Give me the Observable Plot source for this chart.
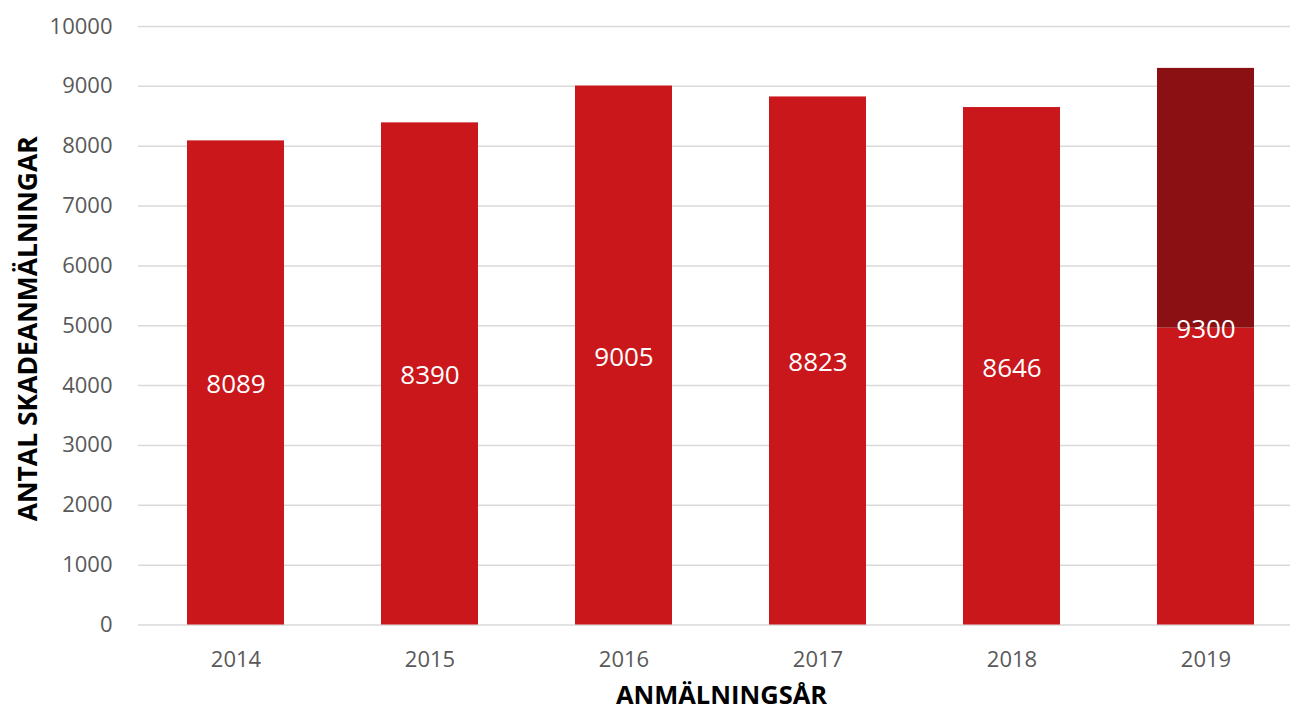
<!DOCTYPE html>
<html>
<head>
<meta charset="utf-8">
<script src="https://cdn.jsdelivr.net/npm/d3@7"></script>
<script src="https://cdn.jsdelivr.net/npm/@observablehq/plot@0.6"></script>
<style>
  html, body { margin: 0; padding: 0; background: #fff; overflow: hidden; }
  #chart svg { display: block; }
</style>
</head>
<body>
<div id="chart"></div>
<script>
// Data
const years = ["2014", "2015", "2016", "2017", "2018", "2019"];
const totals = [8089, 8390, 9005, 8823, 8646, 9300];
const reported = [8089, 8390, 9005, 8823, 8646, 4960]; // lower (bright red) part
const yTicks = [0, 1000, 2000, 3000, 4000, 5000, 6000, 7000, 8000, 9000, 10000];
const xTitle = "ANMÄLNINGSÅR";
const yTitle = "ANTAL SKADEANMÄLNINGAR";

const segments = [];
years.forEach((yr, i) => {
  segments.push({year: yr, part: "reported", value: reported[i]});
  segments.push({year: yr, part: "rest", value: totals[i] - reported[i]});
});
const labels = years.map((yr, i) => ({
  year: yr,
  text: String(totals[i]),
  pos: reported[i] < totals[i] ? reported[i] : totals[i] / 2
}));

const font = "'Open Sans', 'Noto Sans', sans-serif";

const chart = Plot.plot({
  width: 1290,
  height: 713,
  marginLeft: 138,
  marginRight: 0,
  marginTop: 26,
  marginBottom: 88.5,
  style: {fontFamily: font, color: "#595959", background: "#fff"},
  x: {domain: years, range: [137.3, 1303.7], paddingInner: 0.5, paddingOuter: 0.25, label: null},
  y: {domain: [0, 10000], label: null},
  color: {domain: ["reported", "rest"], range: ["#C9171C", "#8B1013"]},
  marks: [
    Plot.ruleY(yTicks, {stroke: "#D9D9D9", strokeWidth: 1.5}),
    Plot.barY(segments, {x: "year", y: "value", fill: "part", order: ["reported", "rest"]}),
    Plot.text(labels, {x: "year", y: "pos", text: "text", fill: "white", fontSize: 26, dy: 2}),
    Plot.axisY(yTicks, {tickSize: 0, tickPadding: 26, fontSize: 22, label: null, tickFormat: d => String(d)}),
    Plot.axisX({tickSize: 0, tickPadding: 26, fontSize: 22, label: null}),
    Plot.text([xTitle], {frameAnchor: "bottom", textAnchor: "middle", dx: 7, dy: 79, fontSize: 25.5, fontWeight: "bold", fill: "#000"}),
    Plot.text([yTitle], {frameAnchor: "left", textAnchor: "middle", lineAnchor: "middle", dx: -110, dy: 3, rotate: -90, fontSize: 26.5, fontWeight: "bold", fill: "#000"})
  ]
});
document.getElementById("chart").appendChild(chart);
</script>
</body>
</html>
